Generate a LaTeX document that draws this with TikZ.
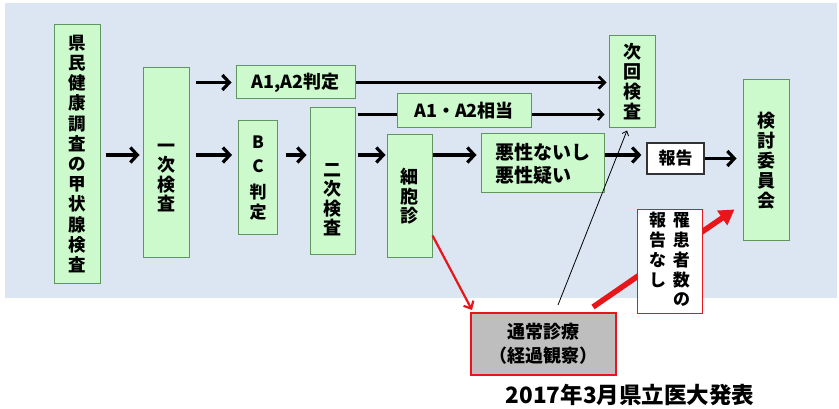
\documentclass[tikz,border=0pt]{standalone}
\usepackage{fontspec}
\setmainfont{Noto Sans CJK JP}
\usetikzlibrary{arrows.meta,calc}
\definecolor{bgblue}{RGB}{220,230,242}
\definecolor{boxfill}{RGB}{204,250,204}
\definecolor{boxline}{RGB}{95,150,95}
\definecolor{myred}{RGB}{232,22,26}
\definecolor{tsgray}{RGB}{190,190,190}
\tikzset{
  gbox/.style={draw=boxline, fill=boxfill, line width=1pt, inner sep=0pt, align=center,
    font=\fontsize{18}{21}\selectfont\bfseries},
  vlabel/.style={font=\fontsize{18}{19.5}\selectfont\bfseries, align=center},
  barrow/.style={line width=3.8pt, -{Straight Barb[length=7pt,width=15pt,line width=3.2pt]}},
  marrow/.style={line width=2.8pt, -{Straight Barb[length=6pt,width=12pt,line width=2.6pt]}},
  tarrow/.style={line width=2.2pt, -{Straight Barb[length=5pt,width=11pt,line width=2.2pt]}},
}
\begin{document}
\begin{tikzpicture}[x=1pt,y=-1pt]
\useasboundingbox (0,0) rectangle (839,409);
\fill[white] (0,0) rectangle (839,409);
\fill[bgblue] (5,3) rectangle (837,298);

\node[gbox, minimum width=46pt, minimum height=258pt, font=\fontsize{17.5}{20.2}\selectfont\bfseries] (ken) at (77,154)
  {県\\民\\健\\康\\調\\査\\の\\甲\\状\\腺\\検\\査};
\node[gbox, minimum width=46pt, minimum height=190pt,
  label={[vlabel, yshift=-15pt]center:一\\次\\検\\査}] (ichiji) at (166,163) {};
\node[gbox, minimum width=119pt, minimum height=33pt, font=\fontsize{18}{20}\selectfont\bfseries] (a12) at (295.5,82.5) {A1,A2判定};
\node[gbox, minimum width=39pt, minimum height=114pt, font=\fontsize{17}{20}\selectfont\bfseries] (bc) at (258,178)
  {B\\[4pt]C\\[6pt]判\\定};
\node[gbox, minimum width=45pt, minimum height=147pt,
  label={[vlabel, yshift=-18pt]center:二\\次\\検\\査}] (niji) at (332.5,181.5) {};
\node[gbox, minimum width=134pt, minimum height=34pt, font=\fontsize{18}{20}\selectfont\bfseries] (a12s) at (464,111) {A1・A2相当};
\node[gbox, minimum width=45pt, minimum height=123pt, font=\fontsize{18}{19.5}\selectfont\bfseries] (saibo) at (409.5,196.5) {細\\胞\\診};
\node[gbox, minimum width=123pt, minimum height=59pt, align=left, font=\fontsize{19}{23}\selectfont\bfseries] (akusei) at (542.5,163.5) {悪性ないし\\悪性疑い};
\node[gbox, minimum width=46pt, minimum height=92pt, font=\fontsize{18}{20}\selectfont\bfseries] (jikai) at (632,82) {次\\回\\検\\査};
\node[draw=black!80, fill=white, line width=1.2pt, inner sep=0pt, minimum width=57pt, minimum height=31pt,
  font=\fontsize{17}{20}\selectfont\bfseries] (hokoku) at (675.5,158.5) {報告};
\node[gbox, minimum width=46pt, minimum height=161pt, font=\fontsize{18}{20}\selectfont\bfseries] (kento) at (766,160.5) {検\\討\\委\\員\\会};
\node[draw=myred, fill=tsgray, line width=2pt, inner sep=0pt, minimum width=145pt, minimum height=62pt, align=center,
  font=\fontsize{18}{24}\selectfont\bfseries] (tsujo) at (543.5,344) {通常診療\\（経過観察）};
\node[font=\fontsize{22.5}{26}\selectfont\bfseries, inner sep=0pt] (title) at (630,395) {2017年3月県立医大発表};

\coordinate (row) at (0,155);
\coordinate (n1) at ([yshift=-7pt]niji.north east);

% black arrows
\draw[barrow, shorten <=5pt, shorten >=3pt] (row -| ken.east) -- (row -| ichiji.west);
\draw[barrow, shorten <=6pt, shorten >=4pt] (a12.west -| ichiji.east) -- (a12.west);
\draw[barrow, shorten <=6pt, shorten >=6pt] (row -| ichiji.east) -- (row -| bc.west);
\draw[barrow, shorten <=8pt, shorten >=3pt] (row -| bc.east) -- (row -| niji.west);
\draw[barrow, shorten <=2pt, shorten >=1pt] (row -| niji.east) -- (row -| saibo.west);
\draw[barrow, shorten >=4pt] (row -| saibo.east) -- (row -| akusei.west);
\draw[barrow, shorten >=5pt] (row -| akusei.east) -- (row -| hokoku.west);
\draw[barrow, shorten >=6pt] (hokoku.east) -- (hokoku.east -| kento.west);
\draw[marrow, shorten >=2pt] (a12.east) -- (a12.east -| jikai.west);
\draw[line width=2.2pt, shorten <=2pt] (n1) -- (n1 -| a12s.west);
\draw[tarrow, shorten >=4pt] (n1 -| a12s.east) -- (n1 -| jikai.west);

% thin black line
\draw[line width=0.8pt, -{Straight Barb[length=4pt,width=7pt,line width=0.8pt]}]
  ([xshift=14.5pt,yshift=7pt]tsujo.north) -- ([xshift=-5pt,yshift=-2pt]jikai.south);

% red arrows
\draw[myred, line width=2.2pt, -{Straight Barb[length=6pt,width=11pt,line width=2.2pt]}]
  ([yshift=23pt]saibo.south east) -- ([xshift=2pt,yshift=2pt]tsujo.north west);
\draw[myred, line width=5.5pt, -{Triangle[length=15pt,width=17pt]}]
  ([xshift=-24pt,yshift=5pt]tsujo.north east) -- ([xshift=-8pt,yshift=32pt]kento.south west);

\node[draw=myred, fill=white, line width=1pt, inner sep=0pt, minimum width=65pt, minimum height=103pt,
  font=\fontsize{17}{18.5}\selectfont\bfseries] (rikan) at (669.5,261.5)
  {\begin{tabular}[c]{@{}c@{\hspace{7pt}}c@{}}報&罹\\告&患\\な&者\\し&数\\&の\end{tabular}};
\end{tikzpicture}
\end{document}
